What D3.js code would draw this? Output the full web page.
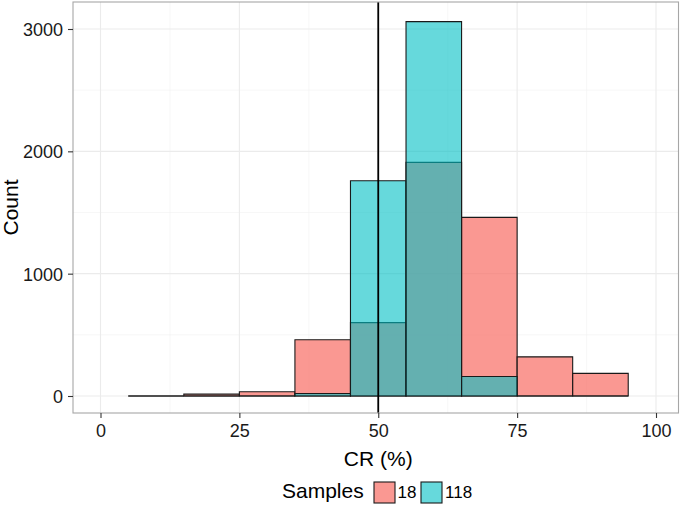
<!DOCTYPE html>
<html><head><meta charset="utf-8">
<script src="https://cdn.jsdelivr.net/npm/d3@7"></script>
<style>body{margin:0;background:#fff}svg{font-family:"Liberation Sans",Arial,sans-serif}</style>
</head><body>
<svg id="c" width="685" height="506"></svg>
<script>
const binStarts = [5, 15, 25, 35, 45, 55, 65, 75, 85];
const binWidth = 10;
const series18 = [0, 15, 35, 460, 600, 1910, 1460, 320, 185];
const series118 = [0, 0, 0, 20, 1760, 3060, 160, 0, 0];
const seriesNames = ["18", "118"];
const xTicks = [0, 25, 50, 75, 100];
const xMinor = [12.5, 37.5, 62.5, 87.5];
const yTicks = [0, 1000, 2000, 3000];
const yMinor = [500, 1500, 2500];
const vlineX = 50;

const svg = d3.select("#c");
const panel = {left: 73, right: 678.5, top: 2, bottom: 413};
const x = d3.scaleLinear().domain([0, 100]).range([100.5, 656]);
const y = d3.scaleLinear().domain([0, 3000]).range([396, 29]);

const g = svg.append("g");
// grid
g.selectAll(".xm").data(xMinor).join("line").attr("x1", d=>x(d)).attr("x2", d=>x(d))
  .attr("y1", panel.top).attr("y2", panel.bottom).attr("stroke", "#f2f2f2").attr("stroke-width", 0.6);
g.selectAll(".ym").data(yMinor).join("line").attr("y1", d=>y(d)).attr("y2", d=>y(d))
  .attr("x1", panel.left).attr("x2", panel.right).attr("stroke", "#f2f2f2").attr("stroke-width", 0.6);
g.selectAll(".xM").data(xTicks).join("line").attr("x1", d=>x(d)).attr("x2", d=>x(d))
  .attr("y1", panel.top).attr("y2", panel.bottom).attr("stroke", "#ebebeb").attr("stroke-width", 1.1);
g.selectAll(".yM").data(yTicks).join("line").attr("y1", d=>y(d)).attr("y2", d=>y(d))
  .attr("x1", panel.left).attr("x2", panel.right).attr("stroke", "#ebebeb").attr("stroke-width", 1.1);

const colors = ["#F8766D", "#00BFC4"];
const alphas = [0.75, 0.6];
[series18, series118].forEach((vals, si) => {
  const data = binStarts.map((b, i) => ({x0: b, x1: b + binWidth, v: vals[i]}));
  g.append("g").selectAll("path").data(data).join("path")
    .attr("d", d => {
      const a = x(d.x0), b = x(d.x1), t = y(d.v), z = y(0);
      return `M${a},${z}L${a},${t}L${b},${t}L${b},${z}Z`;
    })
    .attr("fill", colors[si]).attr("fill-opacity", alphas[si])
    .attr("stroke", "#1a1a1a").attr("stroke-width", 1.1);
});

// vline
g.append("line").attr("x1", x(vlineX)).attr("x2", x(vlineX)).attr("y1", panel.top).attr("y2", panel.bottom)
  .attr("stroke", "#000").attr("stroke-width", 1.8);

// border
g.append("rect").attr("x", panel.left).attr("y", panel.top).attr("width", panel.right - panel.left)
  .attr("height", panel.bottom - panel.top).attr("fill", "none").attr("stroke", "#a6a6a6").attr("stroke-width", 1.1);

// axes
const xa = svg.append("g").attr("transform", `translate(0,${panel.bottom})`)
  .call(d3.axisBottom(x).tickValues(xTicks).tickSize(5).tickPadding(3));
const ya = svg.append("g").attr("transform", `translate(${panel.left},0)`)
  .call(d3.axisLeft(y).tickValues(yTicks).tickSize(5).tickPadding(5).tickFormat(d3.format("d")));
[xa, ya].forEach(a => {
  a.attr("font-size", 18).attr("font-family", null);
  a.select(".domain").remove();
  a.selectAll(".tick line").attr("stroke", "#333").attr("stroke-width", 1.1);
  a.selectAll(".tick text").attr("fill", "#1a1a1a");
});
xa.selectAll(".tick text").attr("dy", "0.88em");
ya.selectAll(".tick text").attr("dy", "0.36em");

svg.append("text").attr("x", x(50)).attr("y", 466).attr("text-anchor", "middle")
  .attr("font-size", 21).attr("fill", "#000").text("CR (%)");
svg.append("text").attr("transform", `translate(17.5,${(panel.top + panel.bottom) / 2}) rotate(-90)`)
  .attr("text-anchor", "middle").attr("font-size", 21).attr("fill", "#000").text("Count");

// legend
const lg = svg.append("g");
lg.append("text").attr("x", 282).attr("y", 498).attr("font-size", 21).text("Samples");
const keys = [{x: 374, tx: 397.5}, {x: 421, tx: 445}];
seriesNames.forEach((n, i) => {
  lg.append("rect").attr("x", keys[i].x).attr("y", 482).attr("width", 21).attr("height", 21)
    .attr("fill", colors[i]).attr("fill-opacity", alphas[i]).attr("stroke", "#1a1a1a").attr("stroke-width", 1.1);
  lg.append("text").attr("x", keys[i].tx).attr("y", 498).attr("font-size", 17).text(n);
});
</script>
</body></html>
